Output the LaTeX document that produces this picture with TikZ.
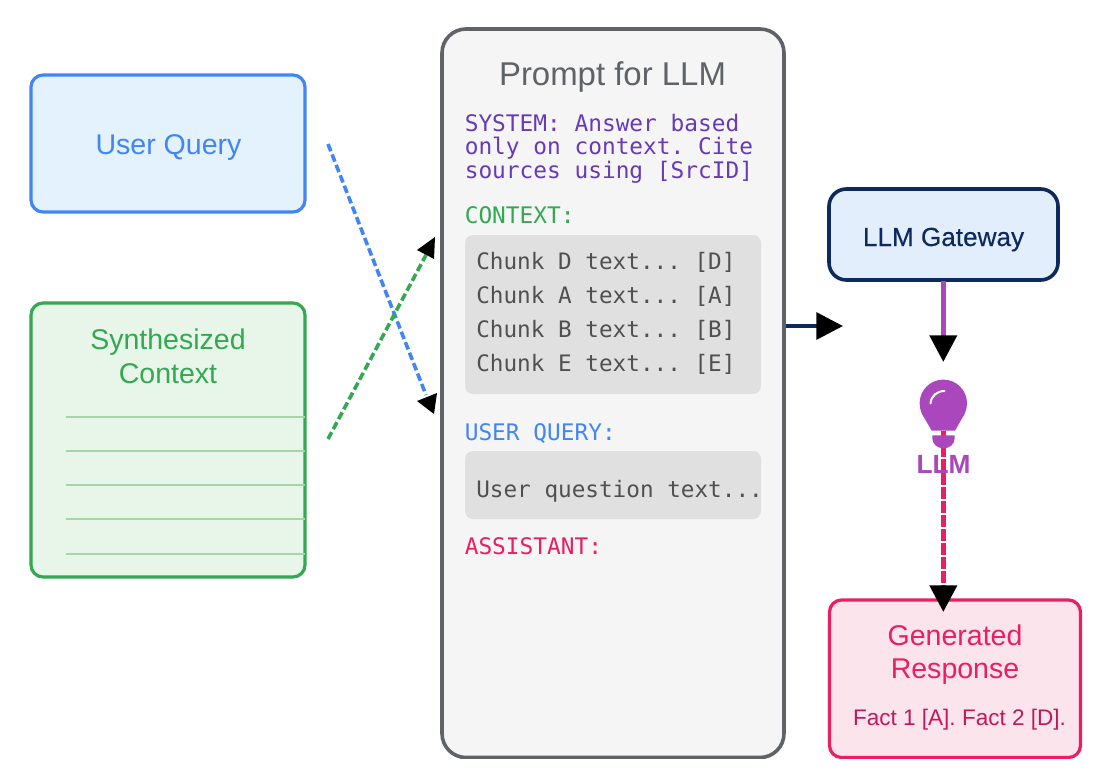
\documentclass[tikz,border=0pt]{standalone}
\usepackage{fontspec}
\setmainfont{Liberation Sans}
\newfontfamily\monof{DejaVu Sans Mono}
\newfontfamily\medf[FakeBold=0.4]{Liberation Sans}
\frenchspacing
\usetikzlibrary{arrows.meta}
\definecolor{cblue}{HTML}{4285F4}
\definecolor{cbluefill}{HTML}{E3F2FD}
\definecolor{cgreen}{HTML}{34A853}
\definecolor{cgreenfill}{HTML}{E8F5E9}
\definecolor{cgreenline}{HTML}{A5D6A7}
\definecolor{cgrey}{HTML}{5F6368}
\definecolor{cpanel}{HTML}{F5F5F5}
\definecolor{cchunk}{HTML}{E0E0E0}
\definecolor{ctext}{HTML}{505050}
\definecolor{cpurple}{HTML}{673AB7}
\definecolor{cpink}{HTML}{E91E63}
\definecolor{cpinkfill}{HTML}{FCE4EC}
\definecolor{cfact}{HTML}{C2185B}
\definecolor{cnavy}{HTML}{0D2A5E}
\definecolor{cgate}{HTML}{E3EEFD}
\definecolor{cviolet}{HTML}{AB47BC}
\tikzset{
  x=0.75pt,y=-0.75pt,
  card/.style={line width=2.4pt,rounded corners=9pt},
  title/.style={inner sep=0pt,anchor=base,font=\fontsize{21.4}{25}\selectfont},
  mono/.style={inner sep=0pt,anchor=base west,font=\monof\fontsize{17.1}{17}\selectfont},
  chunktext/.style={mono,text=ctext,font=\monof\fontsize{17}{17}\selectfont},
  arrowtip/.style={-{Triangle[length=20pt,width=20pt,black]}},
  dotted line/.style={line width=2.7pt,dash pattern=on 5.8pt off 2.6pt},
  rule/.style={cgreenline,line width=1.3pt},
}
\begin{document}
\begin{tikzpicture}
\useasboundingbox (0,0) rectangle (1119,781);
\fill[white] (0,0) rectangle (1119,781);
% user query
\draw[card,draw=cblue,fill=cbluefill] (31,75) rectangle (305,212);
\node[title,text=cblue] (uq) at (168.5,155) {User Query};
\coordinate (uqout) at (328,144);
% synthesized context
\draw[card,draw=cgreen,fill=cgreenfill] (31,303) rectangle (305,577);
\node[title,text=cgreen] (sc1) at (168,349.5) {Synthesized};
\node[title,text=cgreen] (sc2) at (168,383) {Context};
\foreach \y in {417,451,485,519,554}{\draw[rule] (66,\y) -- (305,\y);}
\coordinate (scout) at (328,439);
% prompt
\draw[card,draw=cgrey,fill=cpanel,rounded corners=18pt,line width=2.7pt] (442,29) rectangle (784,757.5);
\node[title,text=cgrey,font=\fontsize{24.7}{28}\selectfont] (pt) at (612.5,86) {Prompt for LLM};
\coordinate (pin1) at (426,255);
\coordinate (pin2) at (426,395);
\node[mono,text=cpurple] (s1) at (464.5,132) {SYSTEM: Answer based};
\node[mono,text=cpurple] (s2) at (464.5,155) {only on context. Cite};
\node[mono,text=cpurple] (s3) at (464.5,178) {sources using [SrcID]};
\node[mono,text=cgreen] (c0) at (464.5,223) {CONTEXT:};
\fill[cchunk,rounded corners=6pt] (465,235) rectangle (761,394);
\node[chunktext] (c1) at (476,269) {Chunk D text... [D]};
\node[chunktext] (c2) at (476,303) {Chunk A text... [A]};
\node[chunktext] (c3) at (476,337) {Chunk B text... [B]};
\node[chunktext] (c4) at (476,371) {Chunk E text... [E]};
\node[mono,text=cblue] (q0) at (464.5,440) {USER QUERY:};
\fill[cchunk,rounded corners=6pt] (465,451) rectangle (761,519);
\node[chunktext] (q1) at (476,497) {User question text...};
\node[mono,text=cpink] (a0) at (464.5,554) {ASSISTANT:};
% gateway
\draw[card,draw=cnavy,fill=cgate,rounded corners=13pt,line width=2.7pt] (829,189) rectangle (1058,280);
\node[title,text=cnavy,font=\medf\fontsize{19.6}{23}\selectfont] (gw) at (943.5,246) {LLM Gateway};
\coordinate (gwin) at (843,326);
\coordinate (gwout) at (943.3,362);
\coordinate (gwbot) at (943.3,281);
\coordinate (pout) at (785.5,326);
% response box
\draw[card,draw=cpink,fill=cpinkfill] (829.5,600) rectangle (1080.5,757.5);
\node[title,text=cpink] (gr1) at (955,645) {Generated};
\node[title,text=cpink] (gr2) at (955,678) {Response};
\node[title,text=cfact,font=\fontsize{16.9}{20}\selectfont] (f) at (959.5,725) {Fact 1 [A]. Fact 2 [D].};
\coordinate (grin) at (943.3,612);
\coordinate (bulbout) at (943.3,431);
% clip at the bottom of the picture
\fill[white] (0,758.6) rectangle (1119,781);
% connectors
\draw[cblue,dotted line] (uqout) -- (pin2);
\draw[cgreen,dotted line] (scout) -- (pin1);
\fill[black] (417,401) -- (437,393) -- (434,414) -- cycle;
\fill[black] (417,250) -- (435,237) -- (434,259) -- cycle;
\draw[cnavy,line width=3.2pt,arrowtip] (pout) -- (gwin);
\draw[cviolet,line width=3.8pt,arrowtip] (gwbot) -- (gwout);
\draw[cpink,line width=3.8pt,dash pattern=on 9.3pt off 1.2pt,arrowtip] (bulbout) -- (grin);
% bulb
\fill[cviolet] (943.3,403.3) circle[radius=23.7];
\fill[cviolet] (921.5,413) -- (965,413) -- (955,430.7) -- (931.7,430.7) -- cycle;
\fill[cviolet] (932.3,435.3) -- (954.7,435.3) -- (954.7,438) .. controls (954.7,444) and (950,448.3) .. (943.5,448.3) .. controls (937,448.3) and (932.3,444) .. (932.3,438) -- cycle;
\draw[white,line width=1.5pt,line cap=round] (930.5,403.5) .. controls (931,396) and (937,391) .. (944.5,391);
\node[title,text=cviolet,font=\bfseries\fontsize{19.7}{24}\selectfont] (llm) at (943.5,473.5) {LLM};
\end{tikzpicture}
\end{document}
